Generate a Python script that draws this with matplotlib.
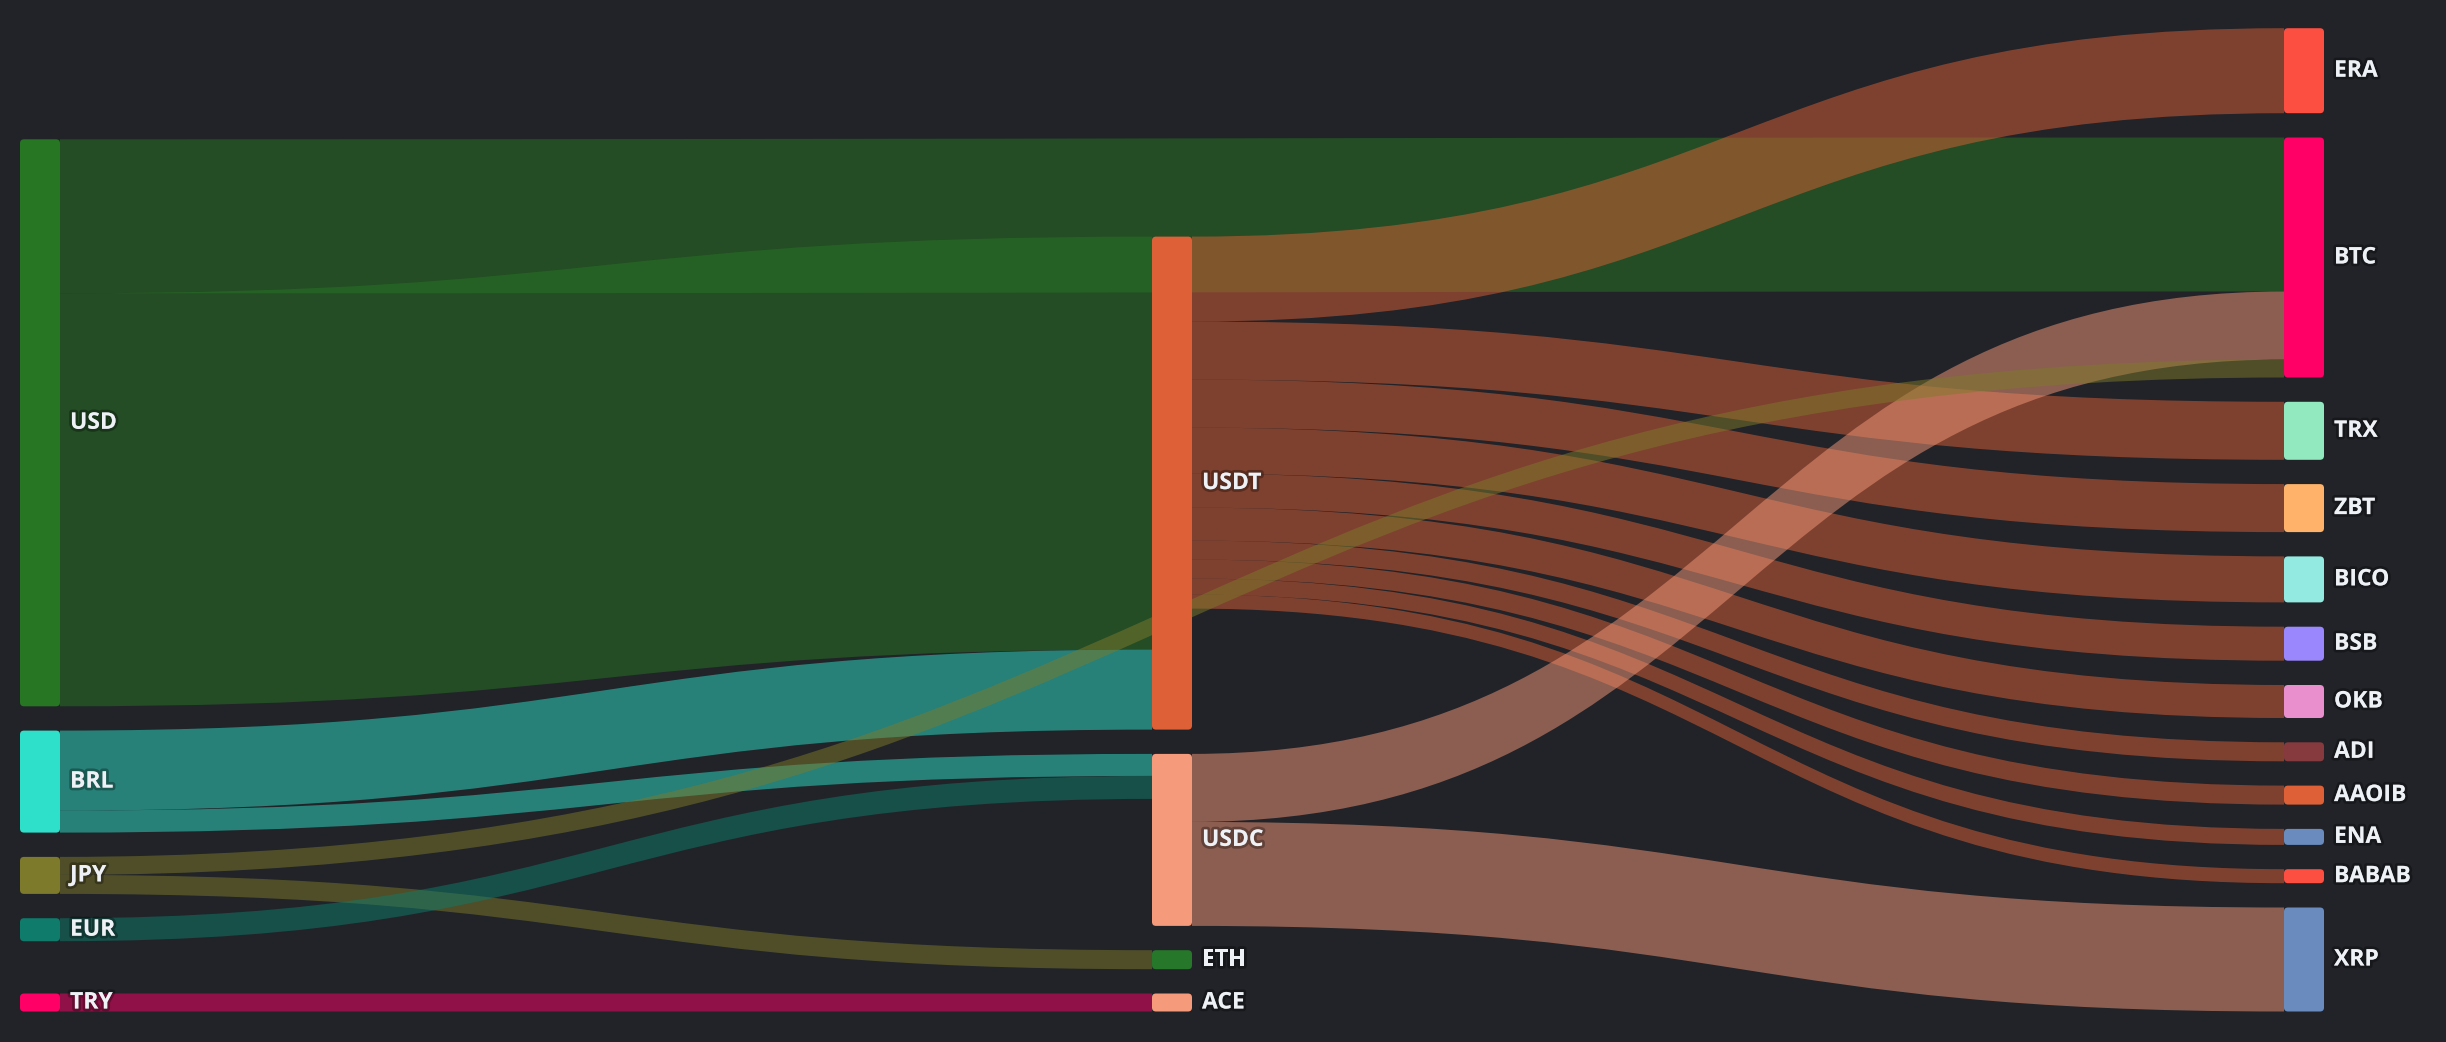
import matplotlib
matplotlib.use("Agg")
import matplotlib.pyplot as plt
from matplotlib.path import Path
from matplotlib.patches import PathPatch, FancyBboxPatch
import matplotlib.patheffects as pe

plt.rcParams['font.family'] = ['Open Sans', 'DejaVu Sans']

# Node columns (left to right, top to bottom)
col_left = ['USD', 'BRL', 'JPY', 'EUR', 'TRY']
col_mid = ['USDT', 'USDC', 'ETH', 'ACE']
col_right = ['ERA', 'BTC', 'TRX', 'ZBT', 'BICO', 'BSB', 'OKB', 'ADI', 'AAOIB', 'ENA', 'BABAB', 'XRP']
columns = [col_left, col_mid, col_right]

# Flows
sources = ['USD', 'USD', 'BRL', 'BRL', 'USDT', 'USDT', 'USDT', 'USDT', 'USDT', 'USDT',
           'USDT', 'USDT', 'USDT', 'USDT', 'USDC', 'USDC', 'JPY', 'JPY', 'EUR', 'TRY']
targets = ['BTC', 'USDT', 'USDT', 'USDC', 'ERA', 'TRX', 'ZBT', 'BICO', 'BSB', 'OKB',
           'ADI', 'AAOIB', 'ENA', 'BABAB', 'BTC', 'XRP', 'BTC', 'ETH', 'USDC', 'ACE']
values = [154, 413, 80, 22, 85, 58, 48, 46, 34, 33,
          19, 19, 16, 14, 68, 104, 18, 19, 23, 18]

node_colors = {
    'USD': '#277624', 'BRL': '#2ee0c9', 'JPY': '#7e7a2b', 'EUR': '#0e7b6b', 'TRY': '#ff0066',
    'USDT': '#dd6036', 'USDC': '#f59a7b', 'ETH': '#27772a', 'ACE': '#f59a7b',
    'ERA': '#fc4f42', 'BTC': '#ff0066', 'TRX': '#93e9bf', 'ZBT': '#ffb36a', 'BICO': '#93eae0',
    'BSB': '#9a86fd', 'OKB': '#e98fce', 'ADI': '#863a3e', 'AAOIB': '#dd6036', 'ENA': '#6a8bbe',
    'BABAB': '#fc4f42', 'XRP': '#6a8bbe',
}

# Layout settings (pixels)
W, H = 2446, 1042
left, right = 20, 2324
node_w = 40
gap = 24.3
bottom = 1011.5
extra_gap = {'TRY': 28}
bg = '#212328'

# node values = max(in, out)
inflow = {}
outflow = {}
for s, t, v in zip(sources, targets, values):
    outflow[s] = outflow.get(s, 0) + v
    inflow[t] = inflow.get(t, 0) + v

node_x, node_top, node_val = {}, {}, {}
step = (right - left - node_w) / (len(columns) - 1)
for ci, col in enumerate(columns):
    yb = bottom
    for name in reversed(col):
        val = max(inflow.get(name, 0), outflow.get(name, 0))
        node_val[name] = val
        node_top[name] = yb - val
        node_x[name] = left + ci * step
        yb = node_top[name] - gap - extra_gap.get(name, 0)

center = {n: node_top[n] + node_val[n] / 2 for n in node_top}

# stack links at each node, ordered by position of the other end
links = list(zip(sources, targets, values))
src_off, tgt_off = {}, {}
for n in node_top:
    outs = sorted([i for i, l in enumerate(links) if l[0] == n], key=lambda i: center[links[i][1]])
    y = node_top[n]
    for i in outs:
        src_off[i] = y
        y += links[i][2]
    ins = sorted([i for i, l in enumerate(links) if l[1] == n], key=lambda i: center[links[i][0]])
    y = node_top[n]
    for i in ins:
        tgt_off[i] = y
        y += links[i][2]

fig = plt.figure(figsize=(W / 100, H / 100), dpi=100, facecolor=bg)
ax = fig.add_axes([0, 0, 1, 1])
ax.set_facecolor(bg)
ax.set_xlim(0, W)
ax.set_ylim(H, 0)
ax.axis('off')

draw_order = ['USD', 'BRL', 'USDT', 'USDC', 'JPY', 'EUR', 'TRY']
for src in draw_order:
    for i, (s, t, v) in enumerate(links):
        if s != src:
            continue
        x0 = node_x[s] + node_w
        x1 = node_x[t]
        xm = (x0 + x1) / 2
        sy0, ty0 = src_off[i], tgt_off[i]
        sy1, ty1 = sy0 + v, ty0 + v
        verts = [(x0, sy0), (xm, sy0), (xm, ty0), (x1, ty0),
                 (x1, ty1), (xm, ty1), (xm, sy1), (x0, sy1), (x0, sy0)]
        codes = [Path.MOVETO, Path.CURVE4, Path.CURVE4, Path.CURVE4,
                 Path.LINETO, Path.CURVE4, Path.CURVE4, Path.CURVE4, Path.CLOSEPOLY]
        ax.add_patch(PathPatch(Path(verts, codes), facecolor=node_colors[s],
                               alpha=0.5, edgecolor='none', lw=0))

shadow = [pe.withStroke(linewidth=4, foreground=(0, 0, 0, 0.3))]
for n in node_top:
    ax.add_patch(FancyBboxPatch((node_x[n], node_top[n]), node_w, node_val[n],
                                boxstyle='round,pad=0,rounding_size=4',
                                facecolor=node_colors[n], edgecolor='none'))
    ax.text(node_x[n] + node_w + 10, center[n], n, ha='left', va='center',
            fontsize=16.5, fontweight='bold', color='#eef1f6', path_effects=shadow)

fig.savefig('out.png', dpi=100, facecolor=bg)
